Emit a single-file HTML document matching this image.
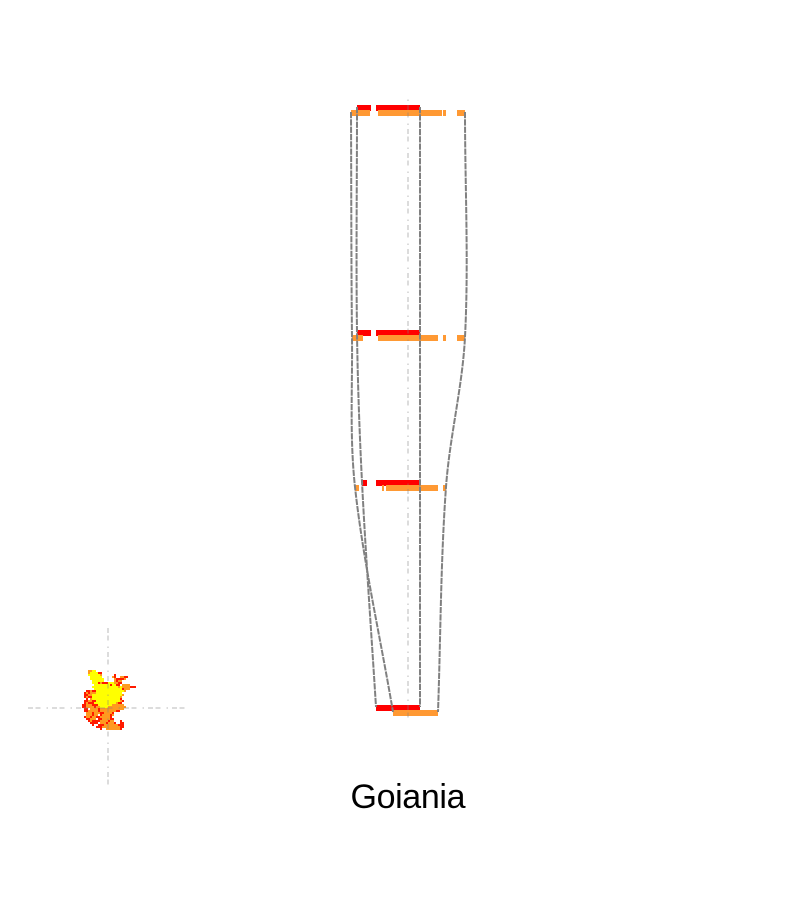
<!DOCTYPE html>
<html lang="en">
<head>
<meta charset="utf-8">
<title>Goiania</title>
<style>
html,body{margin:0;padding:0;background:#fff;}
svg{display:block;}
</style>
</head>
<body>
<svg id="chart" width="800" height="900" viewBox="0 0 800 900" xmlns="http://www.w3.org/2000/svg">
  <g id="map"></g>
  <g id="bars"></g>
  <g id="axes"></g>
  <g id="outlines"></g>
  <text x="408" y="808" text-anchor="middle" font-family="'Liberation Sans', sans-serif" font-size="34" textLength="115" lengthAdjust="spacing" fill="#000">Goiania</text>
</svg>
<script>
const years = [1975, 1990, 2000, 2015];
const redSegments = [
  [[-12.75, -9.25], [-8, 3]],
  [[-12.75, -9.25], [-8, 3]],
  [[-11.5, -10.25], [-8, 3]],
  [[-8, 3]]
];
const orangeSegments = [
  [[-14.25, -9.5], [-7.5, 8.5], [8.75, 9.5], [12.25, 14.25]],
  [[-14, -11.25], [-7.5, 7.5], [8.75, 9.5], [12.25, 14.25]],
  [[-13.25, -12.25], [-6.5, -6], [-5.5, 7.5], [8.75, 9.5]],
  [[-3.75, 7.5]]
];
const mapRows = [
  "...ooyy",
  "...oyyyyrr",
  "...yyyyyyo......r",
  "....yyyyyy.....or..oorr",
  "....yyyyyyy.....orrrro",
  ".....yyyyyy.....oroo",
  ".....yyyrorrryyyoorr",
  "......yyyyyyyyryyrr.oooo",
  ".....yyyyyyyyyyyyyoyoooorrr",
  "......yyyyyyyyyyyyyyrooo",
  "..rrorryyyyyyyyyyyyyyo",
  ".roroooyyyyyyyyyyyyy",
  ".rrooyyyyyyyyyyyyyyyo",
  ".rorryyyyyyyyyyyyyyo",
  "..r.oyyyyyyyyyyyyyyr",
  ".rroorryyyyyyyyyyyyor",
  ".rorrryyyyyyyyyyyorr",
  "rrooorrryyyyyyyoooooo",
  "rroooorooyyyyooooooooo",
  ".rr.ooooroooooooooooo",
  ".rroooooroooooooorr",
  "..ooorooorroooor",
  "..oooroo.rooooro",
  ".rooroorrooooor",
  "..rrooo.rroooorr",
  "...rorrrrooooroo...r",
  "....rrrr.ooorooor..rr",
  ".....r..rrrooooooorrr",
  ".......rrrooooooooorr",
  ".........r..ooooooor"
];
const palette = { r: "#ff1a00", o: "#ff9a1f", y: "#ffff00" };

const NS = "http://www.w3.org/2000/svg";
const xScale = v => 408 + v * 4;
const yScale = yr => 112 + (yr - 1975) * 15;
const mapX = c => 82 + c * 2;
const mapY = r => 670 + r * 2;
const dash = "5 2.5 5 6 1.5 4";

function svgEl(tag, attrs, parent) {
  const el = document.createElementNS(NS, tag);
  for (const k in attrs) el.setAttribute(k, attrs[k]);
  parent.appendChild(el);
  return el;
}

const barsG = document.getElementById("bars");
const axesG = document.getElementById("axes");
const outlinesG = document.getElementById("outlines");
const mapG = document.getElementById("map");

// crosshair of the map
const mapH = svgEl("line", {x1: 28, x2: 188, y1: 708, y2: 708, stroke: "#808080", "stroke-opacity": .28, "stroke-width": 2, "stroke-dasharray": dash}, axesG);



// map cells
mapRows.forEach((row, r) => {
  [...row].forEach((ch, c) => {
    if (!palette[ch]) return;
    const cell = svgEl("rect", {x: mapX(c), y: mapY(r), width: 2, height: 2, fill: palette[ch], "shape-rendering": "crispEdges"}, mapG);
    
    
  });
});

const mapV = svgEl("line", {x1: 108, x2: 108, y1: 628, y2: 788, stroke: "#808080", "stroke-opacity": .28, "stroke-width": 2, "stroke-dasharray": dash}, axesG);



// bars
years.forEach((yr, i) => {
  redSegments[i].forEach(s => {
    const b = svgEl("rect", {x: xScale(s[0]), y: yScale(yr) - 7, width: xScale(s[1]) - xScale(s[0]), height: 6, fill: "#ff0000", "shape-rendering": "crispEdges"}, barsG);
    
    
  });
  orangeSegments[i].forEach(s => {
    const b = svgEl("rect", {x: xScale(s[0]), y: yScale(yr) - 2, width: xScale(s[1]) - xScale(s[0]), height: 6, fill: "#ff9933", "shape-rendering": "crispEdges"}, barsG);
    
    
  });
});

// centre axis
const centre = svgEl("line", {x1: xScale(0), x2: xScale(0), y1: 98, y2: 722, stroke: "#808080", "stroke-opacity": .28, "stroke-width": 2, "stroke-dasharray": dash, "stroke-dashoffset": 17}, axesG);



// outline curves through the extents of each year
function curve(points) {
  const n = points.length;
  const slope = i => {
    const a = points[Math.max(0, i - 1)], b = points[Math.min(n - 1, i + 1)];
    return (b[0] - a[0]) / (b[1] - a[1]);
  };
  let d = "M" + points[0][0] + " " + points[0][1];
  for (let i = 0; i < n - 1; i++) {
    const p = points[i], q = points[i + 1], h = q[1] - p[1];
    d += " C" + (p[0] + slope(i) * h / 3) + " " + (p[1] + h / 3) + " " +
         (q[0] - slope(i + 1) * h / 3) + " " + (q[1] - h / 3) + " " + q[0] + " " + q[1];
  }
  return d;
}
function extent(segments, pick, offset) {
  return years.map((yr, i) => {
    const flat = segments[i].flat();
    return [xScale(pick(...flat)), yScale(yr) + offset];
  });
}
const outlines = [
  extent(redSegments, Math.min, -5),
  extent(redSegments, Math.max, -5),
  extent(orangeSegments, Math.min, 0),
  extent(orangeSegments, Math.max, 0)
];
outlines.forEach(points => {
  const p = svgEl("path", {d: curve(points), fill: "none", stroke: "#808080", "stroke-width": 2, "stroke-dasharray": "6.3 1"}, outlinesG);
  
  
});
</script>
</body>
</html>
